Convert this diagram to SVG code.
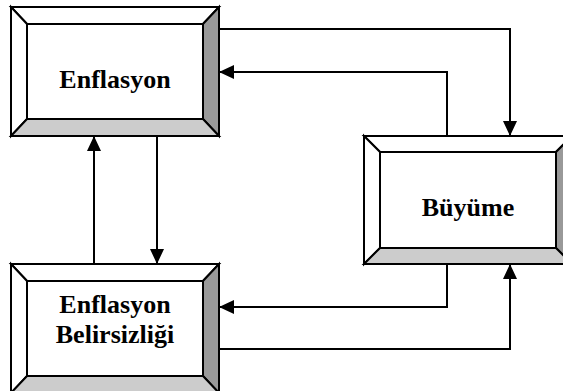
<svg xmlns="http://www.w3.org/2000/svg" width="563" height="391" viewBox="0 0 563 391">
<style>
.edge{fill:none;stroke:#000;stroke-width:2}
.bv{stroke:#000;stroke-width:2;stroke-linejoin:miter}
.lt{fill:#fff}
.dk{fill:#999}
.md{fill:#ccc}
.face{fill:#fff;stroke:#000;stroke-width:2}
.lbl{font-family:"Liberation Serif","Times New Roman",serif;font-weight:bold;font-size:26px;text-anchor:middle;fill:#000}
</style>
<defs>
<marker id="ah" viewBox="0 0 15 14" refX="15" refY="7" markerWidth="15" markerHeight="14" markerUnits="userSpaceOnUse" orient="auto">
<path d="M0,0 L15,7 L0,14 Z" fill="#000"/>
</marker>
</defs>
<rect width="563" height="391" fill="#fff"/>
<g id="connectors">
<path class="edge" d="M219,29 H510 V136" marker-end="url(#ah)"/>
<path class="edge" d="M447,136 V72 H219" marker-end="url(#ah)"/>
<path class="edge" d="M94,264 V136" marker-end="url(#ah)"/>
<path class="edge" d="M157,136 V264" marker-end="url(#ah)"/>
<path class="edge" d="M447,264 V307 H219" marker-end="url(#ah)"/>
<path class="edge" d="M219,349 H510 V264" marker-end="url(#ah)"/>
</g>
<g id="enflasyon">
<polygon class="bv lt" points="11,7 219,7 203,24 27,24"/>
<polygon class="bv lt" points="11,7 27,24 27,119 11,136"/>
<polygon class="bv dk" points="219,7 219,136 203,119 203,24"/>
<polygon class="bv md" points="11,136 219,136 203,119 27,119"/>
<rect class="face" x="27" y="24" width="176" height="95"/>
<text class="lbl" x="115" y="88">Enflasyon</text>
</g>
<g id="buyume">
<polygon class="bv lt" points="364,136 572,136 556,152 380,152"/>
<polygon class="bv lt" points="364,136 380,152 380,248 364,264"/>
<polygon class="bv dk" points="572,136 572,264 556,248 556,152"/>
<polygon class="bv md" points="364,264 572,264 556,248 380,248"/>
<rect class="face" x="380" y="152" width="176" height="96"/>
<text class="lbl" x="468" y="216">Büyüme</text>
</g>
<g id="belirsizlik">
<polygon class="bv lt" points="11,264 219,264 203,281 27,281"/>
<polygon class="bv lt" points="11,264 27,281 27,376 11,393"/>
<polygon class="bv dk" points="219,264 219,393 203,376 203,281"/>
<polygon class="bv md" points="11,393 219,393 203,376 27,376"/>
<rect class="face" x="27" y="281" width="176" height="95"/>
<text class="lbl" x="115" y="313">Enflasyon</text>
<text class="lbl" x="115" y="343">Belirsizliği</text>
</g>
</svg>
